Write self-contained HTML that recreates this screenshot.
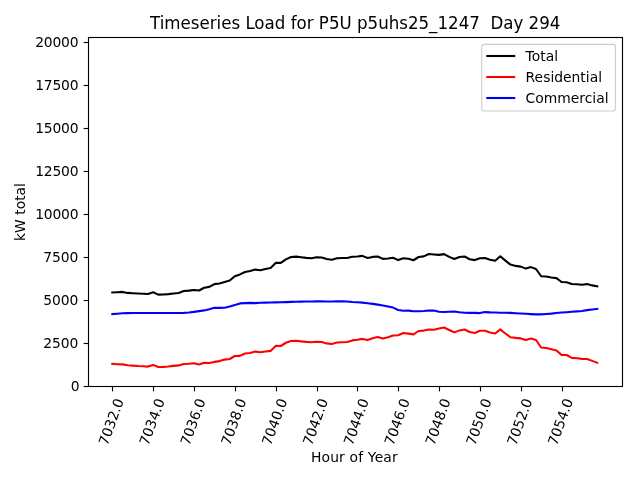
<!DOCTYPE html>
<html><head><meta charset="utf-8"><title>Timeseries Load</title>
<style>
html,body{margin:0;padding:0;background:#fff;}
body{width:640px;height:480px;overflow:hidden;}
svg{display:block;}
text{font-family:'DejaVu Sans','Liberation Sans',sans-serif;fill:#000;white-space:pre;}
.t10{font-size:13.89px;}
.t12{font-size:16.67px;}
</style></head><body>
<svg width="640" height="480" viewBox="0 0 640 480">
<rect x="0" y="0" width="640" height="480" fill="#fff"/>
<polyline points="112.30,292.50 117.41,292.25 122.51,291.90 127.61,292.90 132.72,293.25 137.82,293.50 142.93,293.75 148.03,294.00 153.14,292.25 158.25,294.60 163.35,294.50 168.45,294.10 173.56,293.50 178.67,293.00 183.77,291.00 188.88,290.60 193.98,290.00 199.09,290.50 204.19,287.75 209.30,286.90 214.40,284.10 219.50,283.50 224.61,282.00 229.72,280.50 234.82,276.25 239.93,274.40 245.03,272.00 250.13,271.00 255.24,269.60 260.35,270.25 265.45,269.00 270.56,268.00 275.66,262.90 280.76,262.90 285.87,259.40 290.98,257.00 296.08,256.60 301.19,257.25 306.29,257.90 311.40,258.25 316.50,257.25 321.61,257.50 326.71,259.00 331.81,259.75 336.92,258.25 342.03,258.00 347.13,258.00 352.24,256.75 357.34,256.50 362.44,255.90 367.55,258.00 372.66,256.90 377.76,256.50 382.87,258.90 387.97,258.50 393.08,257.75 398.18,260.10 403.29,258.25 408.39,258.75 413.50,260.25 418.60,257.00 423.71,256.40 428.81,254.00 433.92,254.50 439.02,254.90 444.13,254.10 449.23,256.90 454.34,259.00 459.44,257.00 464.55,256.50 469.65,259.25 474.76,260.10 479.86,258.25 484.97,258.00 490.07,259.75 495.18,260.75 500.28,256.25 505.39,260.60 510.49,264.60 515.60,265.90 520.70,266.60 525.81,268.60 530.91,267.10 536.01,269.00 541.12,276.25 546.23,276.50 551.33,277.50 556.44,278.10 561.54,282.00 566.64,282.25 571.75,284.00 576.86,284.25 581.96,284.75 587.07,284.10 592.17,285.40 597.27,286.25" fill="none" stroke="#000" stroke-width="2.08" stroke-linecap="square" stroke-linejoin="round"/>
<polyline points="112.30,363.90 117.41,364.25 122.51,364.40 127.61,365.25 132.72,365.60 137.82,366.00 142.93,366.25 148.03,366.60 153.14,364.90 158.25,367.00 163.35,366.90 168.45,366.50 173.56,365.90 178.67,365.40 183.77,364.00 188.88,363.75 193.98,363.25 199.09,364.50 204.19,362.75 209.30,363.00 214.40,361.90 219.50,361.10 224.61,359.60 229.72,359.00 234.82,356.00 239.93,355.90 245.03,353.50 250.13,353.00 255.24,351.60 260.35,352.25 265.45,351.50 270.56,350.90 275.66,345.90 280.76,346.00 285.87,342.75 290.98,341.00 296.08,340.75 301.19,341.40 306.29,341.90 311.40,342.25 316.50,341.75 321.61,342.00 326.71,343.40 331.81,344.00 336.92,342.50 342.03,342.25 347.13,342.00 352.24,340.40 357.34,339.75 362.44,338.90 367.55,340.10 372.66,338.25 377.76,337.10 382.87,338.40 387.97,337.25 393.08,335.50 398.18,335.25 403.29,333.00 408.39,333.60 413.50,334.40 418.60,331.00 423.71,330.60 428.81,329.50 433.92,329.75 439.02,328.60 444.13,327.50 449.23,330.00 454.34,332.40 459.44,330.40 464.55,329.50 469.65,332.00 474.76,333.00 479.86,330.75 484.97,330.75 490.07,332.40 495.18,333.50 500.28,329.40 505.39,333.50 510.49,337.25 515.60,337.90 520.70,338.40 525.81,340.00 530.91,338.60 536.01,340.00 541.12,347.50 546.23,348.00 551.33,349.25 556.44,350.50 561.54,354.90 566.64,355.00 571.75,357.90 576.86,358.25 581.96,358.90 587.07,359.00 592.17,360.90 597.27,362.75" fill="none" stroke="#f00" stroke-width="2.08" stroke-linecap="square" stroke-linejoin="round"/>
<polyline points="112.30,314.10 117.41,313.70 122.51,313.30 127.61,313.10 132.72,313.00 137.82,313.00 142.93,313.00 148.03,313.00 153.14,313.00 158.25,313.00 163.35,313.00 168.45,313.00 173.56,313.00 178.67,313.00 183.77,312.90 188.88,312.50 193.98,311.90 199.09,311.10 204.19,310.40 209.30,309.25 214.40,307.75 219.50,307.90 224.61,307.75 229.72,306.50 234.82,305.00 239.93,303.40 245.03,303.10 250.13,302.90 255.24,303.10 260.35,302.75 265.45,302.60 270.56,302.50 275.66,302.35 280.76,302.20 285.87,302.10 290.98,301.90 296.08,301.75 301.19,301.60 306.29,301.50 311.40,301.45 316.50,301.40 321.61,301.40 326.71,301.45 331.81,301.50 336.92,301.40 342.03,301.40 347.13,301.50 352.24,302.00 357.34,302.30 362.44,302.65 367.55,303.20 372.66,303.90 377.76,304.65 382.87,305.45 387.97,306.40 393.08,307.60 398.18,310.00 403.29,310.75 408.39,310.60 413.50,311.25 418.60,311.25 423.71,311.00 428.81,310.50 433.92,310.60 439.02,311.75 444.13,312.00 449.23,311.75 454.34,311.50 459.44,312.25 464.55,312.75 469.65,312.90 474.76,312.90 479.86,313.10 484.97,312.10 490.07,312.40 495.18,312.50 500.28,312.75 505.39,312.80 510.49,312.90 515.60,313.20 520.70,313.50 525.81,313.80 530.91,314.10 536.01,314.40 541.12,314.35 546.23,314.00 551.33,313.60 556.44,312.95 561.54,312.55 566.64,312.20 571.75,311.75 576.86,311.35 581.96,310.95 587.07,310.15 592.17,309.55 597.27,308.95" fill="none" stroke="#00f" stroke-width="2.08" stroke-linecap="square" stroke-linejoin="round"/>
<rect x="88.5" y="37.5" width="534.0" height="349.0" fill="none" stroke="#000" stroke-width="1.11"/>
<line x1="83.64" y1="386.50" x2="88.5" y2="386.50" stroke="#000" stroke-width="1.11"/>
<text class="t10" x="79.68" y="390.80" text-anchor="end" style="letter-spacing:0px">0</text>
<line x1="83.64" y1="343.50" x2="88.5" y2="343.50" stroke="#000" stroke-width="1.11"/>
<text class="t10" x="78.28" y="347.80" text-anchor="end" style="letter-spacing:-0.1px">2500</text>
<line x1="83.64" y1="300.50" x2="88.5" y2="300.50" stroke="#000" stroke-width="1.11"/>
<text class="t10" x="78.28" y="304.80" text-anchor="end" style="letter-spacing:-0.1px">5000</text>
<line x1="83.64" y1="257.50" x2="88.5" y2="257.50" stroke="#000" stroke-width="1.11"/>
<text class="t10" x="78.28" y="261.80" text-anchor="end" style="letter-spacing:-0.1px">7500</text>
<line x1="83.64" y1="214.50" x2="88.5" y2="214.50" stroke="#000" stroke-width="1.11"/>
<text class="t10" x="78.28" y="218.80" text-anchor="end" style="letter-spacing:-0.2px">10000</text>
<line x1="83.64" y1="171.50" x2="88.5" y2="171.50" stroke="#000" stroke-width="1.11"/>
<text class="t10" x="78.28" y="175.80" text-anchor="end" style="letter-spacing:-0.2px">12500</text>
<line x1="83.64" y1="128.50" x2="88.5" y2="128.50" stroke="#000" stroke-width="1.11"/>
<text class="t10" x="78.28" y="132.80" text-anchor="end" style="letter-spacing:-0.2px">15000</text>
<line x1="83.64" y1="85.50" x2="88.5" y2="85.50" stroke="#000" stroke-width="1.11"/>
<text class="t10" x="78.28" y="89.80" text-anchor="end" style="letter-spacing:-0.2px">17500</text>
<line x1="83.64" y1="42.50" x2="88.5" y2="42.50" stroke="#000" stroke-width="1.11"/>
<text class="t10" x="78.28" y="46.80" text-anchor="end" style="letter-spacing:-0.2px">20000</text>
<line x1="112.50" y1="386.5" x2="112.50" y2="391.36" stroke="#000" stroke-width="1.11"/>
<text class="t10" transform="translate(124.10,400.60) rotate(-70)" text-anchor="end" x="0" y="0" dx="0" dy="0">7032.0</text>
<line x1="153.50" y1="386.5" x2="153.50" y2="391.36" stroke="#000" stroke-width="1.11"/>
<text class="t10" transform="translate(164.94,400.60) rotate(-70)" text-anchor="end" x="0" y="0" dx="0" dy="0">7034.0</text>
<line x1="194.50" y1="386.5" x2="194.50" y2="391.36" stroke="#000" stroke-width="1.11"/>
<text class="t10" transform="translate(205.78,400.60) rotate(-70)" text-anchor="end" x="0" y="0" dx="0" dy="0">7036.0</text>
<line x1="235.50" y1="386.5" x2="235.50" y2="391.36" stroke="#000" stroke-width="1.11"/>
<text class="t10" transform="translate(246.62,400.60) rotate(-70)" text-anchor="end" x="0" y="0" dx="0" dy="0">7038.0</text>
<line x1="276.50" y1="386.5" x2="276.50" y2="391.36" stroke="#000" stroke-width="1.11"/>
<text class="t10" transform="translate(287.46,400.60) rotate(-70)" text-anchor="end" x="0" y="0" dx="0" dy="0">7040.0</text>
<line x1="317.50" y1="386.5" x2="317.50" y2="391.36" stroke="#000" stroke-width="1.11"/>
<text class="t10" transform="translate(328.30,400.60) rotate(-70)" text-anchor="end" x="0" y="0" dx="0" dy="0">7042.0</text>
<line x1="357.50" y1="386.5" x2="357.50" y2="391.36" stroke="#000" stroke-width="1.11"/>
<text class="t10" transform="translate(369.14,400.60) rotate(-70)" text-anchor="end" x="0" y="0" dx="0" dy="0">7044.0</text>
<line x1="398.50" y1="386.5" x2="398.50" y2="391.36" stroke="#000" stroke-width="1.11"/>
<text class="t10" transform="translate(409.98,400.60) rotate(-70)" text-anchor="end" x="0" y="0" dx="0" dy="0">7046.0</text>
<line x1="439.50" y1="386.5" x2="439.50" y2="391.36" stroke="#000" stroke-width="1.11"/>
<text class="t10" transform="translate(450.82,400.60) rotate(-70)" text-anchor="end" x="0" y="0" dx="0" dy="0">7048.0</text>
<line x1="480.50" y1="386.5" x2="480.50" y2="391.36" stroke="#000" stroke-width="1.11"/>
<text class="t10" transform="translate(491.66,400.60) rotate(-70)" text-anchor="end" x="0" y="0" dx="0" dy="0">7050.0</text>
<line x1="521.50" y1="386.5" x2="521.50" y2="391.36" stroke="#000" stroke-width="1.11"/>
<text class="t10" transform="translate(532.50,400.60) rotate(-70)" text-anchor="end" x="0" y="0" dx="0" dy="0">7052.0</text>
<line x1="562.50" y1="386.5" x2="562.50" y2="391.36" stroke="#000" stroke-width="1.11"/>
<text class="t10" transform="translate(573.34,400.60) rotate(-70)" text-anchor="end" x="0" y="0" dx="0" dy="0">7054.0</text>
<text class="t12" transform="translate(355.20,28.8) scale(1,1.05)" text-anchor="middle" xml:space="preserve">Timeseries Load for P5U p5uhs25_1247  Day 294</text>
<text class="t10" x="354.40" y="462.1" text-anchor="middle" style="letter-spacing:0.17px">Hour of Year</text>
<text class="t10" transform="translate(25,212.00) rotate(-90)" text-anchor="middle">kW total</text>
<rect x="481.7" y="44.4" width="133.8" height="66.6" rx="2.8" ry="2.8" fill="#fff" fill-opacity="0.8" stroke="#ccc" stroke-width="1.11"/>
<line x1="486.3" y1="56" x2="515.3" y2="56" stroke="#000" stroke-width="2.08"/>
<text class="t10" x="525.6" y="61">Total</text>
<line x1="486.3" y1="77" x2="515.3" y2="77" stroke="#f00" stroke-width="2.08"/>
<text class="t10" x="525.6" y="82">Residential</text>
<line x1="486.3" y1="98" x2="515.3" y2="98" stroke="#00f" stroke-width="2.08"/>
<text class="t10" x="525.6" y="103">Commercial</text>
</svg></body></html>
